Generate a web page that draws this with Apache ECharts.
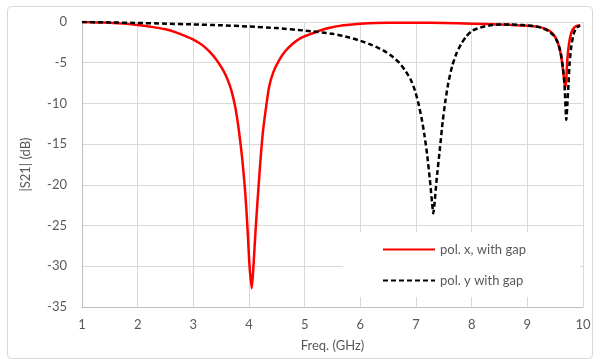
<!DOCTYPE html>
<html>
<head>
<meta charset="utf-8">
<script src="https://cdn.jsdelivr.net/npm/echarts@6/dist/echarts.min.js"></script>
<style>
html,body{margin:0;padding:0;background:#fff;}
#c{width:595px;height:360px;}
</style>
</head>
<body>
<div id="c"></div>
<script>
// Frequency (GHz) and |S21| (dB)
var freqX = [1.0, 1.25, 1.5, 1.75, 2.0, 2.25, 2.5, 2.7, 2.85, 3.0, 3.1, 3.2, 3.3, 3.4, 3.5, 3.58, 3.65, 3.71, 3.76, 3.8, 3.84, 3.88, 3.92, 3.95, 3.98, 4.01, 4.05, 4.08, 4.11, 4.15, 4.2, 4.25, 4.3, 4.36, 4.44, 4.54, 4.65, 4.78, 4.92, 5.08, 5.25, 5.45, 5.7, 6.0, 6.5, 7.0, 7.5, 8.0, 8.5, 9.0, 9.2, 9.35, 9.45, 9.53, 9.58, 9.62, 9.66, 9.68, 9.7, 9.72, 9.75, 9.79, 9.84, 9.9, 9.95];
var s21X  = [0, -0.05, -0.1, -0.2, -0.38, -0.6, -0.9, -1.3, -1.7, -2.15, -2.55, -3.05, -3.7, -4.5, -5.5, -6.5, -7.7, -9.1, -10.7, -12.4, -14.5, -16.9, -19.9, -22.7, -26.2, -30.0, -32.7, -30.0, -26.5, -22.3, -17.5, -13.5, -10.8, -8.0, -6.1, -4.7, -3.6, -2.7, -2.0, -1.55, -1.1, -0.7, -0.4, -0.2, -0.08, -0.08, -0.12, -0.2, -0.3, -0.45, -0.6, -0.9, -1.4, -2.2, -3.3, -4.8, -7.0, -8.1, -7.0, -4.5, -2.6, -1.3, -0.7, -0.45, -0.4];

var freqY = [1.0, 1.5, 2.0, 2.5, 3.0, 3.5, 4.0, 4.5, 5.0, 5.5, 5.8, 6.0, 6.2, 6.4, 6.55, 6.7, 6.8, 6.9, 6.98, 7.04, 7.1, 7.15, 7.2, 7.25, 7.29, 7.31, 7.33, 7.37, 7.43, 7.48, 7.53, 7.58, 7.65, 7.73, 7.82, 7.9, 8.0, 8.15, 8.3, 8.5, 8.7, 8.9, 9.1, 9.25, 9.38, 9.48, 9.55, 9.6, 9.64, 9.67, 9.7, 9.72, 9.74, 9.76, 9.79, 9.83, 9.88, 9.95];
var s21Y  = [0, -0.05, -0.12, -0.2, -0.3, -0.4, -0.55, -0.75, -1.05, -1.45, -1.9, -2.3, -2.8, -3.45, -4.1, -5.0, -5.9, -7.0, -8.4, -9.9, -11.8, -13.8, -16.3, -19.4, -22.3, -23.5, -22.5, -19.4, -15.5, -12.2, -9.6, -7.5, -5.4, -3.8, -2.6, -1.8, -1.1, -0.7, -0.45, -0.3, -0.3, -0.38, -0.5, -0.7, -1.1, -1.7, -2.6, -3.8, -5.6, -8.0, -12, -10, -7.5, -5.0, -3.0, -1.5, -0.7, -0.45];

var seriesNames = ['pol. x, with gap', 'pol. y with gap'];
var xTicks = {min: 1, max: 10, interval: 1};
var yTicks = {min: -35, max: 0, interval: 5};

function pairs(xs, ys){ return xs.map(function(x, i){ return [x, ys[i]]; }); }

var FONT = 'Lato';
var chart = echarts.init(document.getElementById('c'), null, {renderer: 'canvas'});
chart.setOption({
  backgroundColor: '#ffffff',
  animation: false,
  textStyle: {fontFamily: FONT},
  grid: {left: 82, right: 12, top: 22, bottom: 53, containLabel: false},
  graphic: [
    {type: 'rect', left: 5, top: 4, shape: {width: 585, height: 352, r: 4},
     style: {fill: 'none', stroke: '#d9d9d9', lineWidth: 1}, z: -10, silent: true},
    {type: 'rect', left: 343, top: 232, shape: {width: 237, height: 65},
     style: {fill: '#ffffff'}, z: 3, silent: true}
  ],
  legend: {
    orient: 'vertical',
    left: 382, top: 243,
    padding: 0,
    itemWidth: 52, itemHeight: 14, itemGap: 18,
    itemStyle: {opacity: 0},
    textStyle: {color: '#595959', fontSize: 13, fontFamily: FONT},
    data: seriesNames,
    z: 5
  },
  xAxis: {
    type: 'value', min: xTicks.min, max: xTicks.max, interval: xTicks.interval,
    name: 'Freq. (GHz)', nameLocation: 'middle', nameGap: 32,
    nameTextStyle: {color: '#595959', fontSize: 13, fontFamily: FONT},
    axisLine: {show: true, onZero: false, lineStyle: {color: '#bfbfbf', width: 1}},
    axisTick: {show: false},
    axisLabel: {color: '#595959', fontSize: 13, margin: 11, fontFamily: FONT},
    splitLine: {show: true, lineStyle: {color: '#d9d9d9', width: 1}}
  },
  yAxis: {
    type: 'value', min: yTicks.min, max: yTicks.max, interval: yTicks.interval,
    name: '|S21| (dB)', nameLocation: 'middle', nameGap: 50, nameRotate: 90,
    nameTextStyle: {color: '#595959', fontSize: 13, fontFamily: FONT},
    axisLine: {show: true, lineStyle: {color: '#bfbfbf', width: 1}},
    axisTick: {show: false},
    axisLabel: {color: '#595959', fontSize: 13, margin: 15, fontFamily: FONT},
    splitLine: {show: true, lineStyle: {color: '#d9d9d9', width: 1}}
  },
  series: [
    {
      name: seriesNames[0], type: 'line', data: pairs(freqX, s21X),
      symbol: 'none', smooth: 0.2,
      lineStyle: {color: '#ff0000', width: 2.5},
      itemStyle: {color: '#ff0000'}, z: 2
    },
    {
      name: seriesNames[1], type: 'line', data: pairs(freqY, s21Y),
      symbol: 'none', smooth: 0.2,
      lineStyle: {color: '#000000', width: 2.5, type: [5, 3]},
      itemStyle: {color: '#000000'}, z: 2
    }
  ]
});
</script>
</body>
</html>
